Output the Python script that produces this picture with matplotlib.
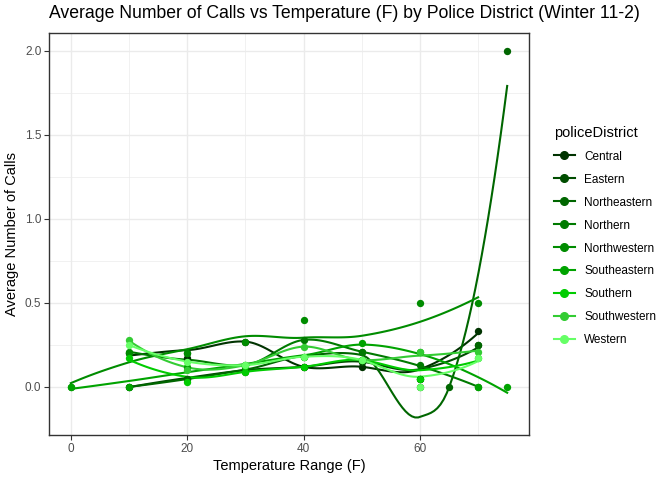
import numpy as np
import matplotlib
matplotlib.use("Agg")
import matplotlib.pyplot as plt
from matplotlib.lines import Line2D

plt.rcParams['font.family'] = ['Liberation Sans', 'DejaVu Sans']

# average number of calls per temperature bucket, per district
districts = ["Central", "Eastern", "Northeastern", "Northern", "Northwestern",
             "Southeastern", "Southern", "Southwestern", "Western"]
colors = ["#003300", "#004d00", "#006600", "#007a00", "#008c00",
          "#00a300", "#00cc00", "#33cc33", "#66ff66"]

temps = {
    "Central":      [10, 20, 30, 40, 50, 60, 70],
    "Eastern":      [10, 20, 30, 40, 50, 60, 70],
    "Northeastern": [10, 20, 30, 40, 50, 60, 65, 70, 75],
    "Northern":     [10, 20, 30, 40, 50, 60, 70],
    "Northwestern": [0, 10, 20, 30, 40, 50, 60, 70],
    "Southeastern": [0, 10, 20, 30, 40, 50, 60, 70, 75],
    "Southern":     [10, 20, 30, 40, 50, 60, 70],
    "Southwestern": [10, 20, 30, 40, 50, 60, 70],
    "Western":      [10, 20, 30, 40, 50, 60, 70],
}
calls = {
    "Central":      [0.20, 0.17, 0.27, 0.12, 0.12, 0.05, 0.335],
    "Eastern":      [0.00, 0.05, 0.10, 0.12, 0.15, 0.05, 0.25],
    "Northeastern": [0.00, 0.05, 0.09, 0.18, 0.21, 0.00, 0.00, 0.25, 2.00],
    "Northern":     [0.20, 0.20, 0.13, 0.28, 0.21, 0.13, 0.00],
    "Northwestern": [0.00, 0.21, 0.20, 0.27, 0.40, 0.16, 0.50, 0.50],
    "Southeastern": [0.00, 0.00, 0.12, 0.12, 0.18, 0.26, 0.21, 0.00, 0.00],
    "Southern":     [0.17, 0.03, 0.09, 0.12, 0.16, 0.05, 0.17],
    "Southwestern": [0.28, 0.10, 0.13, 0.24, 0.16, 0.21, 0.21],
    "Western":      [0.25, 0.15, 0.13, 0.18, 0.16, 0.00, 0.17],
}


def local_fit(x, y, x0, q):
    # weighted local quadratic, tricube weights; returns value and slope
    d = np.abs(x - x0)
    h = np.sort(d)[q - 1] * 1.0001
    w = np.clip(1 - (d / h) ** 3, 0, None) ** 3
    X = np.vstack([np.ones(len(x)), x - x0, (x - x0) ** 2]).T
    A = X.T @ (w[:, None] * X)
    b = X.T @ (w * y)
    beta = np.linalg.lstsq(A, b, rcond=None)[0]
    return beta[0], beta[1]


def loess(x, y, xs, span=0.75):
    # fit at the data positions, then cubic Hermite between them
    x = np.asarray(x, float)
    y = np.asarray(y, float)
    q = int(np.floor(len(x) * span))
    vx = np.unique(x)
    fv = np.array([local_fit(x, y, v, q) for v in vx])
    out = []
    for t in xs:
        i = min(np.searchsorted(vx, t, side='right') - 1, len(vx) - 2)
        x0, x1 = vx[i], vx[i + 1]
        hh = x1 - x0
        s = (t - x0) / hh
        h00 = 2 * s**3 - 3 * s**2 + 1
        h10 = s**3 - 2 * s**2 + s
        h01 = -2 * s**3 + 3 * s**2
        h11 = s**3 - s**2
        out.append(h00 * fv[i, 0] + h10 * hh * fv[i, 1]
                   + h01 * fv[i + 1, 0] + h11 * hh * fv[i + 1, 1])
    return np.array(out)


fig = plt.figure(figsize=(6.72, 4.8), dpi=100)
ax = fig.add_axes([49 / 672, 1 - 435 / 480, 480 / 672, 402 / 480])

for name, col in zip(districts, colors):
    x = temps[name]
    y = calls[name]
    xs = np.linspace(min(x), max(x), 120)
    ax.plot(xs, loess(x, y, xs), color=col, lw=1.5, zorder=3)
    ax.scatter(x, y, color=col, s=28, zorder=4, linewidths=0)

ax.set_xlim(-3.75, 78.75)
ax.set_ylim(-0.286, 2.107)
ax.set_xticks([0, 20, 40, 60])
ax.set_xticks([10, 30, 50, 70], minor=True)
ax.set_yticks([0, 0.5, 1.0, 1.5, 2.0])
ax.set_yticklabels(["0.0", "0.5", "1.0", "1.5", "2.0"])
ax.set_yticks([0.25, 0.75, 1.25, 1.75], minor=True)
ax.grid(which='major', color='#ebebeb', lw=1.0, zorder=0)
ax.grid(which='minor', color='#ebebeb', lw=0.5, zorder=0)
ax.set_axisbelow(True)
for s in ax.spines.values():
    s.set_color('#333333')
    s.set_linewidth(1.0)
ax.tick_params(which='major', length=3.5, width=0.8, color='#333333',
               labelcolor='#4d4d4d', labelsize=8.5, pad=2)
ax.tick_params(which='minor', length=0)

ax.set_xlabel("Temperature Range (F)", fontsize=10.5, color='black', labelpad=3)
ax.set_ylabel("Average Number of Calls", fontsize=10.5, color='black', labelpad=4)
fig.text(49 / 672, 1 - 13 / 480,
         "Average Number of Calls vs Temperature (F) by Police District (Winter 11-2)",
         fontsize=12.7, va='center', ha='left')

handles = [Line2D([], [], color=c, lw=1.5, marker='o', markersize=5.5)
           for c in colors]
leg = ax.legend(handles, districts, title="policeDistrict", frameon=False,
                loc='upper left', bbox_to_anchor=(543 / 672, 1 - 115 / 480),
                bbox_transform=fig.transFigure, fontsize=8.5,
                title_fontsize=10.5, handlelength=1.8, labelspacing=0.93,
                handletextpad=0.8)
leg._legend_box.align = "left"

fig.savefig("out.png", dpi=100)
